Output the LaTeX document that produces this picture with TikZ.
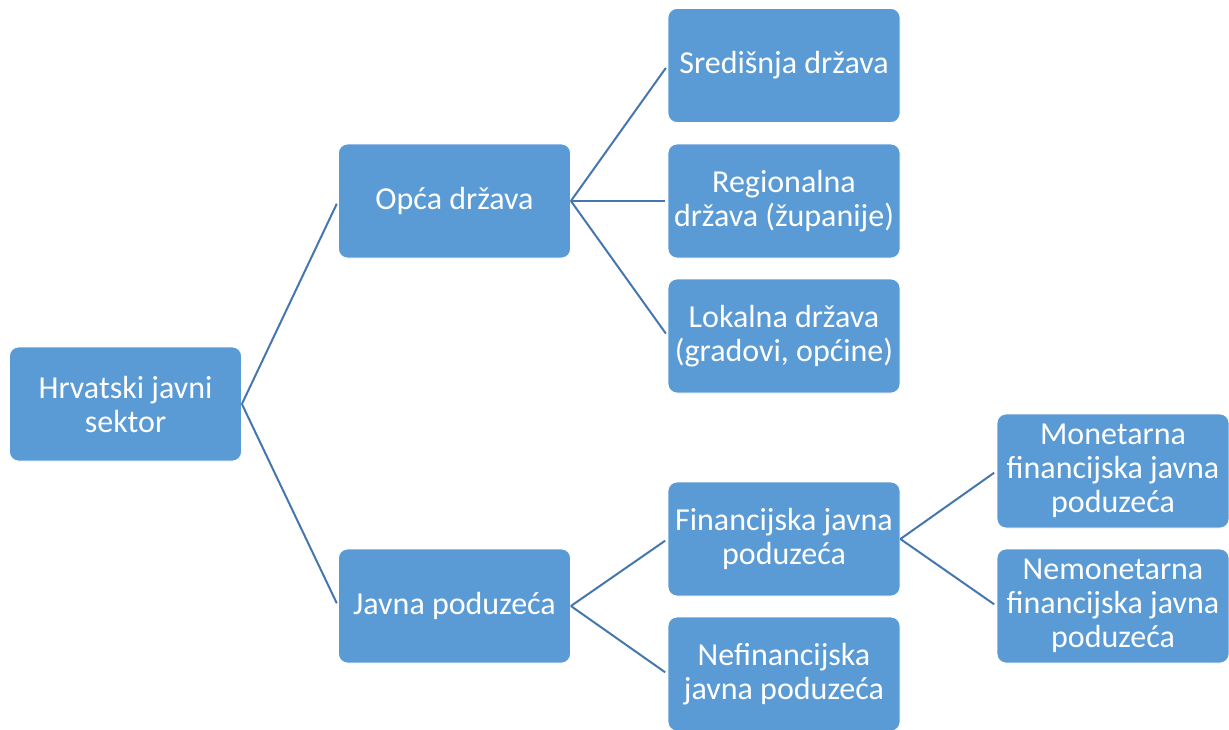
\documentclass[tikz,border=0pt]{standalone}
\usepackage{fontspec}
\setmainfont{Carlito}
\definecolor{boxblue}{HTML}{5B9BD5}
\definecolor{lineblue}{HTML}{4576AE}

\begin{document}
\begin{tikzpicture}[x=1pt,y=-1pt,
    unit/.style={draw=white,line width=0.8pt,fill=boxblue,text=white,rounded corners=9pt,
      minimum width=232pt,minimum height=114pt,align=center,inner sep=2pt,
      font=\fontsize{32}{34}\selectfont},
    link/.style={draw=lineblue,line width=2pt,shorten >=3pt}]
    \useasboundingbox (0,0) rectangle (1229,729);
    % level one
    \node (sektor) at (125.5,404) [unit] {Hrvatski javni\\sektor};
    % level two
    \node (opca)   at (454.5,201) [unit] {Opća država};
    \node (javna)  at (454.5,606) [unit] {Javna poduzeća};
    % level three
    \node (sredisnja) at (784,65.5) [unit] {Središnja država};
    \node (regionalna) at (784,201) [unit] {Regionalna\\država (županije)};
    \node (lokalna)   at (784,336) [unit] {Lokalna država\\(gradovi, općine)};
    \node (fin)       at (784,539) [unit] {Financijska javna\\poduzeća};
    \node (nefin)     at (784,674) [unit] {Nefinancijska\\javna poduzeća};
    % level four
    \node (monet)   at (1113,471) [unit] {Monetarna\\financijska javna\\poduzeća};
    \node (nemonet) at (1113,606) [unit] {Nemonetarna\\financijska javna\\poduzeća};
    % connectors
    \draw[link] (sektor.east) -- (opca.west);
    \draw[link] (sektor.east) -- (javna.west);
    \draw[link] (opca.east) -- (sredisnja.west);
    \draw[link] (opca.east) -- (regionalna.west);
    \draw[link] (opca.east) -- (lokalna.west);
    \draw[link] (javna.east) -- (fin.west);
    \draw[link] (javna.east) -- (nefin.west);
    \draw[link] (fin.east) -- (monet.west);
    \draw[link] (fin.east) -- (nemonet.west);
  \end{tikzpicture}
\end{document}
